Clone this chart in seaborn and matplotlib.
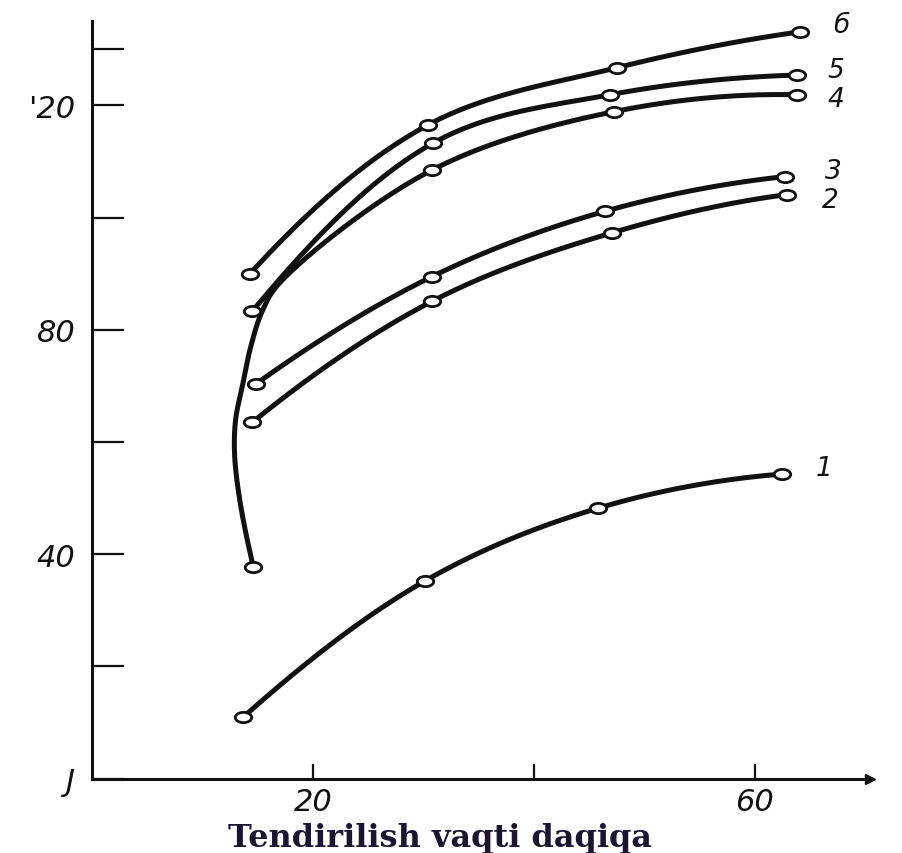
"""
Tendirilish vaqti bo'yicha egri chiziqlar (1-6).

Qo'lda chizilgan, skaner qilingan grafikning seaborn nusxasi.
"""

import matplotlib

matplotlib.use("Agg")

import matplotlib.pyplot as plt
import numpy as np
import seaborn as sns
from matplotlib.path import Path
from matplotlib.transforms import Affine2D, ScaledTranslation

# --- data ------------------------------------------------------------------
CURVE_NAMES: list[str] = ["1", "2", "3", "4", "5", "6"]
LABEL_TEXT: list[str] = ["1", "2", "3", "4", "5", "б"]

X_1: list[float] = [13.7, 30.1, 45.8, 62.5]
Y_1: list[float] = [11.0, 35.2, 48.2, 54.3]

X_2: list[float] = [14.5, 30.8, 47.1, 62.9]
Y_2: list[float] = [63.5, 85.1, 97.3, 104.1]

X_3: list[float] = [14.8, 30.8, 46.4, 62.7]
Y_3: list[float] = [70.3, 89.5, 101.1, 107.3]

X_4: list[float] = [14.6, 30.8, 47.3, 63.8]
Y_4: list[float] = [37.7, 108.5, 118.9, 121.9]

X_5: list[float] = [14.5, 30.9, 46.9, 63.8]
Y_5: list[float] = [83.3, 113.3, 121.9, 125.4]

X_6: list[float] = [14.3, 30.4, 47.5, 64.1]
Y_6: list[float] = [90.0, 116.5, 126.7, 133.1]

# curve 4 bends back to the left before it rises: points traced on the
# drawn line between its first and second marker (no markers there)
STEM_4_X: list[float] = [13.4, 12.9, 13.0, 13.6, 14.3, 15.4, 17.0]
STEM_4_Y: list[float] = [49.3, 57.8, 64.1, 69.9, 76.5, 83.3, 88.4]

X_TICKS: list[int] = [20, 40, 60]
X_TICK_LABELS: list[str] = ["20", "", "60"]
Y_TICKS: list[int] = [0, 20, 40, 60, 80, 100, 120, 130]
Y_TICK_LABELS: list[str] = ["J", "", "40", "", "80", "", "'20", ""]

X_LABEL: str = "Tendirilish vaqti daqiqa"

# --- style -----------------------------------------------------------------
FIGURE_WIDTH: float = 9.03
FIGURE_HEIGHT: float = 8.54
INK: str = "#111111"
TITLE_COLOR: str = "#1c1430"
LINE_WIDTH: float = 3.6
ASPECT: float = 5.62 / 11.05  # y-units vs x-units on screen
# label offsets from each curve's last marker, in points
LABEL_OFFSETS: list[tuple[float, float]] = [
    (24, 4), (25, -4), (29, 4), (22, -3), (22, 4), (24, 5),
]


def smooth(xs, ys, n=40):
    """Centripetal Catmull-Rom through the given points (for drawing)."""
    pts = np.column_stack([xs, np.asarray(ys) * ASPECT]).astype(float)
    # curvature-keeping phantom end points
    start = 3 * pts[0] - 3 * pts[1] + pts[2]
    end = 3 * pts[-1] - 3 * pts[-2] + pts[-3]
    pts = np.vstack([start, pts, end])
    out = []
    for i in range(len(pts) - 3):
        p0, p1, p2, p3 = pts[i:i + 4]
        t0 = 0.0
        t1 = t0 + np.linalg.norm(p1 - p0) ** 0.5
        t2 = t1 + np.linalg.norm(p2 - p1) ** 0.5
        t3 = t2 + np.linalg.norm(p3 - p2) ** 0.5
        t = np.linspace(t1, t2, n)[:, None]
        a1 = (t1 - t) / (t1 - t0) * p0 + (t - t0) / (t1 - t0) * p1
        a2 = (t2 - t) / (t2 - t1) * p1 + (t - t1) / (t2 - t1) * p2
        a3 = (t3 - t) / (t3 - t2) * p2 + (t - t2) / (t3 - t2) * p3
        b1 = (t2 - t) / (t2 - t0) * a1 + (t - t0) / (t2 - t0) * a2
        b2 = (t3 - t) / (t3 - t1) * a2 + (t - t1) / (t3 - t1) * a3
        c = (t2 - t) / (t2 - t1) * b1 + (t - t1) / (t2 - t1) * b2
        out.append(c if i == 0 else c[1:])
    out = np.vstack(out)
    return out[:, 0], out[:, 1] / ASPECT


def create_chart() -> None:
    sns.set_style("white")
    plt.rcParams["font.family"] = ["DejaVu Sans"]

    fig = plt.figure(figsize=(FIGURE_WIDTH, FIGURE_HEIGHT), dpi=100)
    ax = fig.add_axes([0.102, 0.087, 0.861, 0.887])

    ellipse = Path.unit_circle().transformed(Affine2D().scale(1.6, 1.0))

    curves_x = [X_1, X_2, X_3, X_4, X_5, X_6]
    curves_y = [Y_1, Y_2, Y_3, Y_4, Y_5, Y_6]

    for name, xs, ys in zip(CURVE_NAMES, curves_x, curves_y):
        if name == "4":
            line_x = [xs[0]] + STEM_4_X + xs[1:]
            line_y = [ys[0]] + STEM_4_Y + ys[1:]
        else:
            line_x, line_y = xs, ys
        sx, sy = smooth(line_x, line_y)
        sns.lineplot(x=sx, y=sy, sort=False, estimator=None, ax=ax,
                     color=INK, linewidth=LINE_WIDTH, zorder=2)
        sns.scatterplot(x=xs, y=ys, ax=ax, marker=ellipse, s=140,
                        facecolor="white", edgecolor=INK, linewidth=2.0,
                        zorder=3)

    for text, xs, ys, off in zip(LABEL_TEXT, curves_x, curves_y,
                                 LABEL_OFFSETS):
        ax.annotate(text, (xs[-1], ys[-1]), xytext=off,
                    textcoords="offset points", fontsize=19,
                    style="italic", color=INK, ha="left", va="center")

    ax.set_xlim(0, 70.4)
    ax.set_ylim(0, 135)
    ax.set_xticks(X_TICKS)
    ax.set_xticklabels(X_TICK_LABELS)
    ax.set_yticks(Y_TICKS)
    ax.set_yticklabels(Y_TICK_LABELS)
    for lab in ax.get_xticklabels() + ax.get_yticklabels():
        lab.set_fontstyle("italic")
        lab.set_fontsize(22)
        lab.set_color(INK)
    # the hand-lettered x numbers sit a little left of their ticks
    shift = ScaledTranslation(-0.1, 0, fig.dpi_scale_trans)
    for lab in ax.get_xticklabels():
        lab.set_transform(lab.get_transform() + shift)
    ax.tick_params(axis="y", left=True, direction="in", length=23,
                   width=1.6, pad=12, colors=INK)
    ax.tick_params(axis="x", bottom=True, direction="in", length=11,
                   width=1.6, pad=6, colors=INK)

    for side in ("top", "right"):
        ax.spines[side].set_visible(False)
    for side in ("left", "bottom"):
        ax.spines[side].set_linewidth(2.2)
        ax.spines[side].set_color(INK)

    # small arrow head at the end of the time axis
    ax.plot([1.0], [0.0], marker=">", markersize=7, color=INK,
            transform=ax.transAxes, clip_on=False)

    ax.set_xlabel("")
    ax.set_ylabel("")
    fig.text(440 / 903, 0.008, X_LABEL, fontsize=23, fontweight="bold",
             family="DejaVu Serif", color=TITLE_COLOR, ha="center",
             va="baseline")

    fig.savefig("out.png", dpi=100, facecolor="white")


if __name__ == "__main__":
    create_chart()
